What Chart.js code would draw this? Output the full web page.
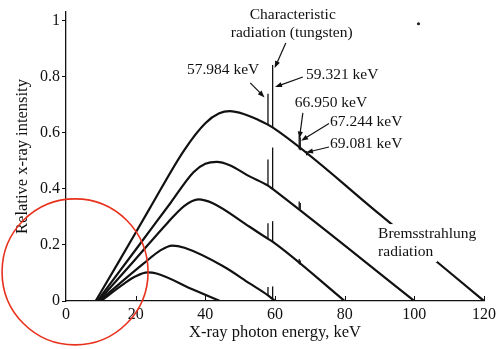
<!DOCTYPE html>
<html>
<head>
<script src="https://cdn.jsdelivr.net/npm/chart.js@4.4.0/dist/chart.umd.min.js"></script>
<style>
  html, body { margin: 0; padding: 0; background: #fff; }
  canvas { display: block; }
</style>
</head>
<body>
<canvas id="spectrum" width="500" height="349"></canvas>
<script>
// bremsstrahlung curves: energy (keV) / relative intensity
var energy45 = [10, 16.8, 20, 23.4, 26, 36.6, 44.2];
var intensity45 = [0, 0.063, 0.088, 0.102, 0.098, 0.04, 0];

var energy60 = [9.5, 22.4, 27, 30.5, 34, 45, 52.7, 58, 60];
var intensity60 = [0, 0.135, 0.18, 0.198, 0.19, 0.125, 0.063, 0.02, 0];

var energy80 = [9.3, 20, 29, 34, 38, 42, 52.7, 58, 59.3, 80];
var intensity80 = [0, 0.15, 0.277, 0.34, 0.363, 0.35, 0.265, 0.222, 0.212, 0];

var energy100 = [9, 20, 30, 36.6, 40, 43.3, 47, 52.7, 58, 59.3, 100];
var intensity100 = [0, 0.183, 0.35, 0.46, 0.49, 0.497, 0.485, 0.445, 0.412, 0.4, 0];

var energy120 = [8.5, 15, 24, 34, 40, 44, 47, 51, 55, 59.3, 90, 120];
var intensity120 = [0, 0.137, 0.33, 0.54, 0.635, 0.67, 0.678, 0.668, 0.648, 0.62, 0.31, 0];

// tungsten characteristic lines, foot and tip on each curve
var lineEnergies = [57.984, 59.321, 66.950, 67.244, 69.081];
var lineBase60 = [0.02, 0.01, null, null, null];
var lineTop60 = [0.05, 0.052, null, null, null];
var lineBase80 = [0.222, 0.21, 0.132, 0.129, null];
var lineTop80 = [0.278, 0.285, 0.15, 0.145, null];
var lineBase100 = [0.412, 0.4, 0.33, 0.327, null];
var lineTop100 = [0.505, 0.548, 0.355, 0.35, null];
var lineBase120 = [0.632, 0.62, 0.541, 0.538, 0.52];
var lineTop120 = [0.74, 0.843, 0.59, 0.585, 0.535];

var xTicks = [0, 20, 40, 60, 80, 100, 120];
var yTicks = [0, 0.2, 0.4, 0.6, 0.8, 1];

var ink = '#111';
var serif = '"Liberation Serif", "DejaVu Serif", serif';
Chart.defaults.font.family = serif;
Chart.defaults.color = ink;

function points(xs, ys) {
  return xs.map(function (x, i) { return { x: x, y: ys[i] }; });
}

var datasets = [];
[[energy45, intensity45], [energy60, intensity60], [energy80, intensity80],
 [energy100, intensity100], [energy120, intensity120]].forEach(function (c) {
  datasets.push({
    data: points(c[0], c[1]),
    borderColor: ink, borderWidth: 2.2, pointRadius: 0,
    cubicInterpolationMode: 'monotone', fill: false
  });
});
[[lineBase60, lineTop60], [lineBase80, lineTop80],
 [lineBase100, lineTop100], [lineBase120, lineTop120]].forEach(function (s) {
  lineEnergies.forEach(function (e, i) {
    if (s[0][i] == null) return;
    datasets.push({
      data: [{ x: e, y: s[0][i] }, { x: e, y: s[1][i] }],
      borderColor: ink, borderWidth: 1.3, pointRadius: 0, tension: 0, fill: false
    });
  });
});

// label text and arrows, placed in data units
var notes = [
  { text: 'Characteristic', x: 65.1, y: 1.021, align: 'center' },
  { text: 'radiation (tungsten)', x: 64.8, y: 0.958, align: 'center' },
  { text: '57.984 keV', x: 45.1, y: 0.825, align: 'center' },
  { text: '59.321 keV', x: 68.9, y: 0.807, align: 'left' },
  { text: '66.950 keV', x: 65.7, y: 0.706, align: 'left' },
  { text: '67.244 keV', x: 75.8, y: 0.638, align: 'left' },
  { text: '69.081 keV', x: 75.8, y: 0.56, align: 'left' }
];
var arrows = [
  [63.1, 0.921, 59.9, 0.832],
  [52.9, 0.779, 57.0, 0.727],
  [68.0, 0.8, 60.0, 0.764],
  [68.0, 0.672, 67.0, 0.58],
  [75.5, 0.634, 67.5, 0.572],
  [75.5, 0.55, 68.9, 0.53]
];
var bremsNote = [
  { text: 'Bremsstrahlung', x: 89.6, y: 0.239 },
  { text: 'radiation', x: 89.6, y: 0.175 }
];

function drawArrow(ctx, x1, y1, x2, y2) {
  var a = Math.atan2(y2 - y1, x2 - x1);
  var len = 7, half = 2.6;
  ctx.beginPath();
  ctx.moveTo(x1, y1);
  ctx.lineTo(x2 - Math.cos(a) * len * 0.8, y2 - Math.sin(a) * len * 0.8);
  ctx.stroke();
  ctx.beginPath();
  ctx.moveTo(x2, y2);
  ctx.lineTo(x2 - Math.cos(a) * len - Math.sin(a) * half, y2 - Math.sin(a) * len + Math.cos(a) * half);
  ctx.lineTo(x2 - Math.cos(a) * len + Math.sin(a) * half, y2 - Math.sin(a) * len - Math.cos(a) * half);
  ctx.closePath();
  ctx.fill();
}

var annotate = {
  id: 'annotate',
  afterDatasetsDraw: function (chart) {
    var ctx = chart.ctx, xs = chart.scales.x, ys = chart.scales.y;
    ctx.save();
    ctx.strokeStyle = ink;
    ctx.fillStyle = ink;
    // inward x ticks
    ctx.lineWidth = 1;
    xTicks.forEach(function (v) {
      if (v === 0) return;
      var px = Math.round(xs.getPixelForValue(v)) + 0.5;
      ctx.beginPath();
      ctx.moveTo(px, ys.bottom);
      ctx.lineTo(px, ys.bottom - 5);
      ctx.stroke();
    });
    ctx.font = '15.5px ' + serif;
    ctx.textBaseline = 'middle';
    notes.forEach(function (n) {
      ctx.textAlign = n.align;
      ctx.fillText(n.text, xs.getPixelForValue(n.x), ys.getPixelForValue(n.y));
    });
    ctx.lineWidth = 1.2;
    arrows.forEach(function (a) {
      drawArrow(ctx, xs.getPixelForValue(a[0]), ys.getPixelForValue(a[1]),
        xs.getPixelForValue(a[2]), ys.getPixelForValue(a[3]));
    });
    // bremsstrahlung label sits on a white patch that breaks the 120 kV curve
    ctx.textAlign = 'left';
    bremsNote.forEach(function (n) {
      var px = xs.getPixelForValue(n.x), py = ys.getPixelForValue(n.y);
      var w = ctx.measureText(n.text).width;
      ctx.fillStyle = '#fff';
      ctx.fillRect(px - 4, py - 10, w + 8, 20);
      ctx.fillStyle = ink;
      ctx.fillText(n.text, px, py);
    });
    // red marker circle
    ctx.strokeStyle = '#e8321e';
    ctx.lineWidth = 1.6;
    ctx.beginPath();
    ctx.arc(xs.getPixelForValue(2.6), ys.getPixelForValue(0.104), 73, 0, Math.PI * 2);
    ctx.stroke();
    // speck of dust on the scan
    ctx.fillStyle = '#222';
    ctx.beginPath();
    ctx.arc(xs.getPixelForValue(101.2), ys.getPixelForValue(0.99), 1.6, 0, Math.PI * 2);
    ctx.fill();
    ctx.restore();
  }
};

new Chart(document.getElementById('spectrum'), {
  type: 'line',
  data: { datasets: datasets },
  options: {
    responsive: false,
    animation: false,
    devicePixelRatio: 1,
    layout: { padding: { left: 0, right: 12, top: 12, bottom: 0 } },
    plugins: { legend: { display: false }, tooltip: { enabled: false } },
    scales: {
      x: {
        type: 'linear', min: 0, max: 120,
        afterBuildTicks: function (s) { s.ticks = xTicks.map(function (v) { return { value: v }; }); },
        afterFit: function (s) { s.height = 48; },
        grid: { display: false, drawTicks: false, tickLength: 0 },
        border: { display: true, color: ink, width: 1.3 },
        ticks: { padding: 4, maxRotation: 0, font: { size: 16 }, color: ink,
                 callback: function (v) { return String(v); } },
        title: { display: true, text: 'X-ray photon energy, keV', font: { size: 16.5 }, color: ink, padding: { top: 0, bottom: 6 } }
      },
      y: {
        type: 'linear', min: 0, max: 1.032,
        afterBuildTicks: function (s) { s.ticks = yTicks.map(function (v) { return { value: v }; }); },
        afterFit: function (s) { s.width = 66; },
        grid: { drawOnChartArea: false, drawTicks: true, tickLength: 4, color: ink, lineWidth: 1 },
        border: { display: true, color: ink, width: 1.3 },
        ticks: { padding: 2, font: { size: 16 }, color: ink,
                 callback: function (v) { return String(v); } },
        title: { display: true, text: 'Relative x-ray intensity', font: { size: 16.5 }, color: ink, padding: { top: 13, bottom: 0 } }
      }
    }
  },
  plugins: [annotate]
});
</script>
</body>
</html>
